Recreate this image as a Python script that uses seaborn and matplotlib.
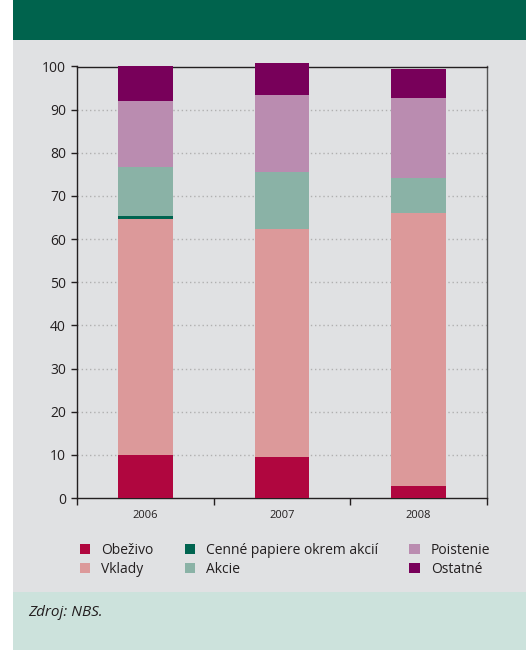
import numpy as np
import pandas as pd
import matplotlib
matplotlib.use("Agg")
import matplotlib.pyplot as plt
from matplotlib.patches import Rectangle, Patch
import seaborn as sns

years = ["2006", "2007", "2008"]
obezivo = [10.0, 9.5, 2.8]
vklady = [54.7, 52.8, 63.2]
cenne = [0.7, 0.0, 0.0]
akcie = [11.2, 13.3, 8.2]
poistenie = [15.5, 17.8, 18.5]
ostatne = [8.0, 7.4, 6.7]

series_names = ["Obeživo", "Vklady", "Cenné papiere okrem akcií", "Akcie", "Poistenie", "Ostatné"]
series_vals = [obezivo, vklady, cenne, akcie, poistenie, ostatne]
colors = ["#B0063F", "#DC999A", "#006450", "#8AB2A6", "#BA8CB0", "#78005A"]
yticks = [0, 10, 20, 30, 40, 50, 60, 70, 80, 90, 100]

sns.set_theme(style="white")
plt.rcParams["font.family"] = ["Open Sans", "DejaVu Sans"]

W, H = 526, 650
fig = plt.figure(figsize=(W / 100, H / 100), dpi=100)
fig.patch.set_facecolor("white")

# background panels
for (x0, y0, w, h, c) in [
    (13 / W, (H - 592) / H, 1 - 13 / W, (592 - 40) / H, "#E0E1E3"),
    (13 / W, (H - 40) / H, 1 - 13 / W, 40 / H, "#00634D"),
    (13 / W, 0, 1 - 13 / W, (H - 592) / H, "#CCE2DC"),
]:
    fig.patches.append(Rectangle((x0, y0), w, h, transform=fig.transFigure,
                                 facecolor=c, edgecolor="none", zorder=-5))

ax = fig.add_axes([77 / W, (H - 498) / H, (487 - 77) / W, (498 - 66.5) / H])
ax.set_facecolor("none")
ax.set_zorder(2)

data = np.array(series_vals)
cum = np.cumsum(data, axis=0)
# draw cumulative totals from the top series down so that each layer shows its segment
for i in range(len(series_names) - 1, -1, -1):
    df = pd.DataFrame({"year": years, "value": cum[i]})
    sns.barplot(data=df, x="year", y="value", color=colors[i], width=0.4,
                saturation=1, ax=ax, zorder=3, edgecolor="none", linewidth=0)

for p in ax.patches:
    p.set_clip_on(False)

ax.set_xlim(-0.5, 2.5)
ax.set_ylim(0, 100)
ax.set_yticks(yticks)
ax.set_yticklabels([str(v) for v in yticks], fontsize=10, color="#231F20")
ax.set_xticks([0, 1, 2])
ax.set_xticklabels(years, fontsize=8, color="#231F20")
ax.set_xticks([-0.5, 0.5, 1.5, 2.5], minor=True)
ax.tick_params(axis="x", which="major", length=0, pad=9)
ax.tick_params(axis="x", which="minor", length=5, width=1, color="#231F20",
               direction="out", bottom=True)
ax.tick_params(axis="y", which="major", length=4, width=1, color="#231F20",
               direction="out", pad=4, left=True)
ax.set_xlabel("")
ax.set_ylabel("")

for yv in yticks[1:-1]:
    ax.axhline(yv, color="#B0B0B0", linestyle=(0, (1, 2)), linewidth=1, zorder=1)

for s in ax.spines.values():
    s.set_visible(True)
    s.set_color("#231F20")
    s.set_linewidth(1)
ax.spines["right"].set_color("#555555")

handles = [Patch(facecolor=c, edgecolor="none") for c in colors]
fig.legend(handles, series_names, loc="upper left", bbox_to_anchor=(67 / W, (H - 530) / H),
           ncol=3, frameon=False, fontsize=10, handlelength=0.75, handleheight=0.75,
           handletextpad=0.8, columnspacing=2.25, labelspacing=0.3, labelcolor="#231F20")

fig.text(28 / W, (H - 612) / H, "Zdroj: NBS.", fontsize=11, style="italic",
         color="#231F20", va="center", ha="left")

fig.savefig("out.png", dpi=100)
